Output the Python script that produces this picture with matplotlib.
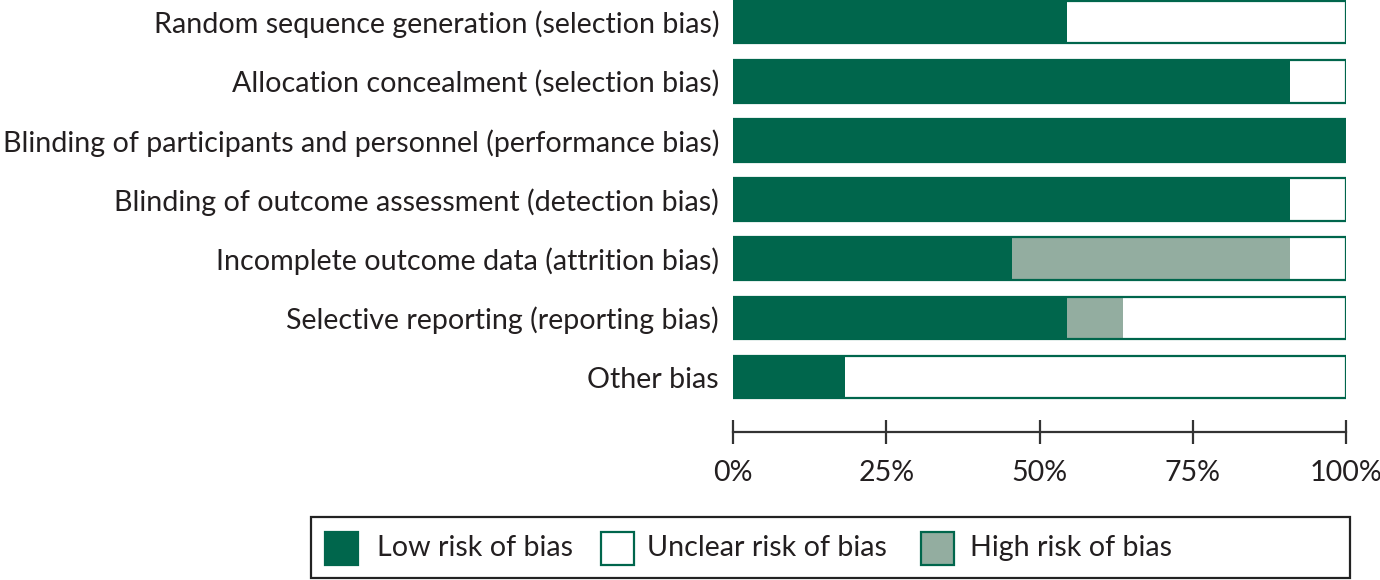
import matplotlib.pyplot as plt
from matplotlib.patches import Rectangle

# risk of bias summary, percent of studies
domains = [
    'Random sequence generation (selection bias)',
    'Allocation concealment (selection bias)',
    'Blinding of participants and personnel (performance bias)',
    'Blinding of outcome assessment (detection bias)',
    'Incomplete outcome data (attrition bias)',
    'Selective reporting (reporting bias)',
    'Other bias',
]
low_risk = [54.5, 90.9, 100.0, 90.9, 45.5, 54.5, 18.2]
high_risk = [0.0, 0.0, 0.0, 0.0, 45.4, 9.1, 0.0]
unclear_risk = [100 - l - h for l, h in zip(low_risk, high_risk)]

tick_vals = [0, 25, 50, 75, 100]
tick_labels = ['0%', '25%', '50%', '75%', '100%']

legend_labels = ['Low risk of bias', 'Unclear risk of bias', 'High risk of bias']

GREEN = '#00664C'
GREY = '#93ADA0'
TEXT = '#231F20'
FS = 20.6

plt.rcParams['font.family'] = ['Lato', 'DejaVu Sans']

W, H = 1380, 580
fig = plt.figure(figsize=(W / 100, H / 100), dpi=100)
ax = fig.add_axes([733 / W, 1 - 432 / H, 613 / W, 432 / H])

ypos = list(range(len(domains)))
h = 0.72
ax.barh(ypos, low_risk, height=h, color=GREEN, linewidth=0)
ax.barh(ypos, high_risk, left=low_risk, height=h, color=GREY, linewidth=0)
ax.barh(ypos, unclear_risk, left=[l + g for l, g in zip(low_risk, high_risk)],
        height=h, color='white', linewidth=0)
# outline round the whole bar
ax.barh(ypos, [100] * len(domains), height=h, fill=False, edgecolor=GREEN, linewidth=1.6)

ax.set_xlim(0, 100)
ax.set_ylim(6.926, -0.372)
ax.set_yticks(ypos)
ax.set_yticklabels(domains, fontsize=FS, color=TEXT)
ax.tick_params(axis='y', length=0, pad=10)

ax.set_xticks(tick_vals)
ax.set_xticklabels(tick_labels, fontsize=FS, color=TEXT)
ax.tick_params(axis='x', direction='inout', length=17, width=1.6, color='#333333', pad=12)

for s in ['top', 'right', 'left']:
    ax.spines[s].set_visible(False)
ax.spines['bottom'].set_linewidth(1.6)
ax.spines['bottom'].set_color('#333333')

# legend box drawn by hand (wide frame like the original)
def px(x, y):
    return x / W, 1 - y / H

x0, y0 = px(311, 578)
x1, y1 = px(1350, 517)
fig.add_artist(Rectangle((x0, y0), x1 - x0, y1 - y0, transform=fig.transFigure,
                         facecolor='white', edgecolor='#222222', linewidth=1.6))
items = [(325, GREEN, 377), (601, 'white', 647), (921, GREY, 970)]
for (hx, fc, tx), lab in zip(items, legend_labels):
    bx, by = px(hx, 565)
    fig.add_artist(Rectangle((bx, by), 33 / W, 33 / H, transform=fig.transFigure,
                             facecolor=fc, edgecolor=GREEN, linewidth=1.6))
    fig.text(tx / W, 1 - 548 / H, lab, fontsize=FS, color=TEXT, va='center', ha='left')

fig.savefig('out.png', dpi=100)
